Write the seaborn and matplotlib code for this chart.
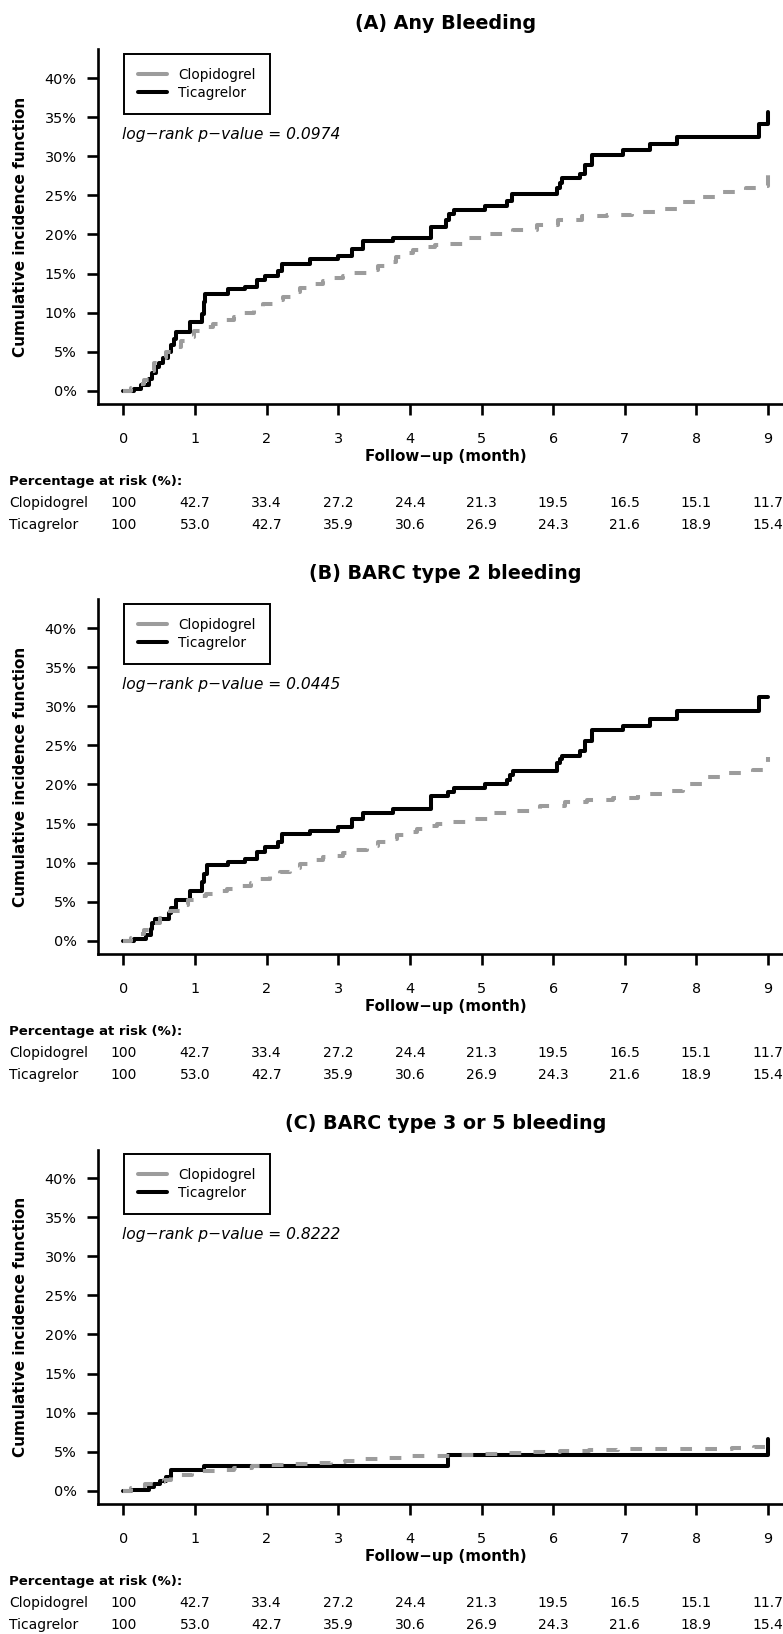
import pandas as pd
import seaborn as sns
import matplotlib.pyplot as plt
from matplotlib import transforms
from matplotlib.lines import Line2D

# -----------------------------------------------------------------------------
# Data
# -----------------------------------------------------------------------------

groups = ["Clopidogrel", "Ticagrelor"]
titles = ["(A) Any Bleeding", "(B) BARC type 2 bleeding", "(C) BARC type 3 or 5 bleeding"]
p_values = ["0.0974", "0.0445", "0.8222"]

months = [0, 1, 2, 3, 4, 5, 6, 7, 8, 9]
y_ticks = [0, 5, 10, 15, 20, 25, 30, 35, 40]
y_tick_labels = ["0%", "5%", "10%", "15%", "20%", "25%", "30%", "35%", "40%"]

risk_clop = ["100", "42.7", "33.4", "27.2", "24.4", "21.3", "19.5", "16.5", "15.1", "11.7"]
risk_tica = ["100", "53.0", "42.7", "35.9", "30.6", "26.9", "24.3", "21.6", "18.9", "15.4"]

# (A) any bleeding, cumulative incidence in %
a_clop_t = [0, 0.1, 0.2, 0.28, 0.35, 0.42, 0.5, 0.6, 0.70, 0.80, 0.88, 0.98, 1.07, 1.25,
            1.40, 1.55, 1.68, 1.82, 1.95, 2.1, 2.23, 2.35, 2.47, 2.62, 2.79, 2.93, 3.07,
            3.22, 3.40, 3.55, 3.68, 3.80, 3.91, 4.05, 4.19, 4.35, 4.52, 4.79, 5.12, 5.44,
            5.77, 6.07, 6.40, 6.75, 7.10, 7.45, 7.77, 8.07, 8.37, 8.70, 8.95, 9.0]
a_clop_v = [0, 0.3, 0.8, 1.4, 2.5, 3.5, 4.2, 4.9, 5.6, 6.4, 6.9, 7.6, 8.2, 8.6,
            9.05, 9.4, 9.9, 10.5, 11.1, 11.6, 12.0, 12.6, 13.2, 13.6, 14.0, 14.4, 14.7,
            15.1, 15.5, 16.0, 16.5, 17.1, 17.6, 18.0, 18.4, 18.6, 18.8, 19.5, 20.1, 20.6,
            21.2, 21.8, 22.4, 22.5, 22.9, 23.2, 24.1, 24.8, 25.5, 25.9, 26.2, 28.0]
a_tica_t = [0, 0.14, 0.25, 0.36, 0.40, 0.45, 0.50, 0.55, 0.62, 0.66, 0.70, 0.74, 0.93,
            1.09, 1.12, 1.14, 1.46, 1.70, 1.86, 1.98, 2.16, 2.21, 2.60, 3.00, 3.19, 3.35,
            3.77, 4.30, 4.50, 4.55, 4.61, 5.05, 5.35, 5.42, 6.05, 6.10, 6.12, 6.38, 6.45,
            6.54, 6.98, 7.35, 7.73, 8.87, 9.00]
a_tica_v = [0, 0.2, 0.7, 1.5, 2.3, 3.0, 3.6, 4.2, 4.9, 5.8, 6.6, 7.5, 8.8,
            9.8, 11.3, 12.4, 13.0, 13.3, 14.2, 14.7, 15.3, 16.2, 16.8, 17.2, 18.1, 19.1,
            19.5, 20.9, 21.8, 22.6, 23.1, 23.6, 24.3, 25.2, 26.0, 26.6, 27.2, 27.8, 28.9,
            30.2, 30.8, 31.6, 32.5, 34.2, 35.7]

# (B) BARC type 2
b_clop_t = [0, 0.1, 0.2, 0.28, 0.4, 0.51, 0.65, 0.79, 0.9, 1.02, 1.15, 1.30, 1.45, 1.63,
            1.78, 1.91, 2.05, 2.19, 2.33, 2.47, 2.62, 2.79, 2.93, 3.07, 3.22, 3.40, 3.55,
            3.68, 3.82, 3.96, 4.10, 4.24, 4.38, 4.52, 4.84, 5.17, 5.49, 5.82, 6.17, 6.47,
            6.84, 7.19, 7.54, 7.82, 8.14, 8.42, 8.79, 9.0]
b_clop_v = [0, 0.3, 0.8, 1.4, 2.2, 2.9, 3.8, 4.6, 5.2, 5.7, 6.0, 6.3, 6.6, 6.95,
            7.4, 7.9, 8.3, 8.75, 9.3, 9.85, 10.3, 10.65, 10.9, 11.2, 11.6, 12.1, 12.6,
            13.0, 13.5, 13.9, 14.3, 14.7, 14.9, 15.2, 15.6, 16.35, 16.55, 17.2, 17.8, 18.05,
            18.3, 18.8, 19.1, 20.1, 21.0, 21.5, 21.8, 23.5]
b_tica_t = [0, 0.15, 0.31, 0.38, 0.40, 0.44, 0.63, 0.67, 0.74, 0.93, 1.09, 1.13, 1.16,
            1.46, 1.70, 1.86, 1.98, 2.16, 2.21, 2.60, 3.00, 3.19, 3.35, 3.77, 4.30, 4.53,
            4.61, 5.05, 5.35, 5.40, 5.44, 6.05, 6.09, 6.12, 6.38, 6.45, 6.54, 6.98, 7.35,
            7.73, 8.87, 9.00]
b_tica_v = [0, 0.2, 0.77, 1.5, 2.3, 2.8, 3.5, 4.2, 5.25, 6.4, 7.5, 8.6, 9.65,
            10.1, 10.5, 11.4, 11.95, 12.6, 13.6, 14.1, 14.6, 15.6, 16.35, 16.9, 18.5, 19.0,
            19.55, 20.1, 20.6, 21.2, 21.7, 22.7, 23.2, 23.7, 24.3, 25.6, 27.0, 27.5, 28.4,
            29.45, 31.15, 31.15]

# (C) BARC type 3 or 5
c_clop_t = [0, 0.1, 0.2, 0.3, 0.45, 0.56, 0.67, 0.8, 0.95, 1.1, 1.3, 1.55, 1.8, 2.0,
            2.3, 2.6, 2.9, 3.1, 3.35, 3.6, 3.9, 4.2, 4.6, 5.0, 5.35, 5.7, 6.1, 6.5, 6.9,
            7.5, 8.1, 8.5, 8.8, 9.0]
c_clop_v = [0, 0.3, 0.6, 0.85, 1.1, 1.4, 1.7, 2.0, 2.3, 2.5, 2.7, 2.9, 3.1, 3.3,
            3.45, 3.55, 3.65, 3.8, 4.0, 4.2, 4.4, 4.5, 4.6, 4.7, 4.8, 5.0, 5.1, 5.2, 5.3,
            5.3, 5.3, 5.5, 5.6, 6.0]
c_tica_t = [0, 0.11, 0.35, 0.42, 0.51, 0.60, 0.67, 1.13, 4.53, 9.0]
c_tica_v = [0, 0.15, 0.5, 0.9, 1.3, 1.7, 2.7, 3.2, 4.6, 6.6]

panels = [
    (a_clop_t, a_clop_v, a_tica_t, a_tica_v),
    (b_clop_t, b_clop_v, b_tica_t, b_tica_v),
    (c_clop_t, c_clop_v, c_tica_t, c_tica_v),
]

# -----------------------------------------------------------------------------
# Style
# -----------------------------------------------------------------------------

GRAY = "#9c9c9c"
LW = 2.9

sns.set_style("ticks")
plt.rcParams["font.family"] = ["DejaVu Sans"]
plt.rcParams["axes.edgecolor"] = "black"
plt.rcParams["xtick.color"] = "black"
plt.rcParams["ytick.color"] = "black"
plt.rcParams["text.color"] = "black"

W, H = 783, 1634
fig = plt.figure(figsize=(W / 100, H / 100), dpi=100)
fig.patch.set_facecolor("white")

ax_left, ax_w, ax_h = 97.7, 696.0, 354.3

for i, (ct, cv, tt, tv) in enumerate(panels):
    spine_y = 403.8 + 550 * i
    ax = fig.add_axes([ax_left / W, (H - spine_y) / H, ax_w / W, ax_h / H])

    df = pd.concat([
        pd.DataFrame({"month": tt, "cif": tv, "group": "Ticagrelor"}),
        pd.DataFrame({"month": ct, "cif": cv, "group": "Clopidogrel"}),
    ], ignore_index=True)

    sns.lineplot(data=df, x="month", y="cif", hue="group", style="group",
                 hue_order=["Ticagrelor", "Clopidogrel"],
                 palette={"Clopidogrel": GRAY, "Ticagrelor": "black"},
                 dashes={"Clopidogrel": (2.9, 3.3), "Ticagrelor": ""},
                 estimator=None, drawstyle="steps-post", linewidth=LW,
                 legend=False, ax=ax)

    ax.set_xlim(-0.36, 9.36)
    ax.set_ylim(-1.68, 43.68)
    ax.set_xticks(months)
    ax.set_xticklabels([str(m) for m in months])
    ax.set_yticks(y_ticks)
    ax.set_yticklabels(y_tick_labels)
    ax.set_xlabel("")
    ax.set_ylabel("")
    ax.tick_params(axis="both", length=7.9, width=1.9, labelsize=10.4, direction="out")
    ax.tick_params(axis="x", pad=12.7)
    ax.tick_params(axis="y", pad=7.2)
    sns.despine(ax=ax)
    for side in ["left", "bottom"]:
        ax.spines[side].set_linewidth(1.9)

    # titles and axis labels
    ax.text(0.5, 1 + 26.3 / ax_h, titles[i], transform=ax.transAxes,
            ha="center", va="center", fontsize=13.8, fontweight="bold")
    ax.text(-(ax_left - 21) / ax_w, 0.5, "Cumulative incidence function",
            transform=ax.transAxes, rotation=90, ha="center", va="center",
            fontsize=11, fontweight="bold")
    ax.text(0.5, -52.2 / ax_h, "Follow\u2212up (month)", transform=ax.transAxes,
            ha="center", va="center", fontsize=10.8, fontweight="bold")

    # legend
    handles = [Line2D([], [], color=GRAY, lw=LW),
               Line2D([], [], color="black", lw=LW)]
    leg = ax.legend(handles, groups, loc="upper left",
                    bbox_to_anchor=(26.3 / ax_w, 1 - 4.7 / ax_h),
                    borderaxespad=0, fontsize=9.8, frameon=True, fancybox=False,
                    framealpha=1, edgecolor="black", borderpad=1.0,
                    handlelength=2.16, handletextpad=0.84, labelspacing=0.3)
    leg.get_frame().set_linewidth(1.4)

    ax.text(24 / ax_w, 1 - 85.4 / ax_h, f"log\u2212rank p\u2212value = {p_values[i]}",
            transform=ax.transAxes, ha="left", va="center", fontsize=11.2,
            style="italic")

    # risk table
    fig_x = transforms.blended_transform_factory(fig.transFigure, ax.transAxes)
    data_x = ax.get_xaxis_transform()
    row_pct = -(481.7 - 403.8) / ax_h
    row_clop = -(503.3 - 403.8) / ax_h
    row_tica = -(525.0 - 403.8) / ax_h
    ax.text(9 / W, row_pct, "Percentage at risk (%):", transform=fig_x,
            ha="left", va="center", fontsize=9.5, fontweight="bold")
    for label, row, vals in [("Clopidogrel", row_clop, risk_clop),
                             ("Ticagrelor", row_tica, risk_tica)]:
        ax.text(9 / W, row, label, transform=fig_x, ha="left", va="center", fontsize=10)
        for m, val in zip(months, vals):
            ax.text(m, row, val, transform=data_x, ha="center", va="center", fontsize=10)

fig.savefig("out.png", dpi=100)
